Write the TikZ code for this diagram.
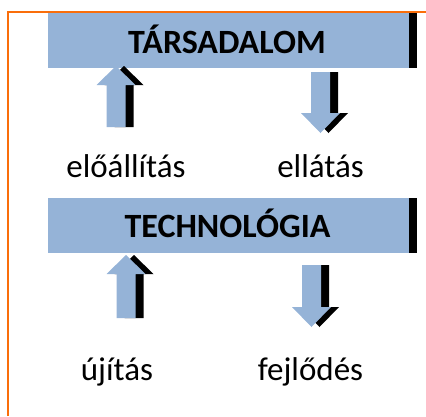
\documentclass[tikz,border=0pt]{standalone}
\usepackage{fontspec}
\setmainfont{Carlito}
\definecolor{boxblue}{RGB}{149,179,215}
\definecolor{frameorange}{RGB}{250,110,10}
\tikzset{
  boxfill/.style={fill=boxblue,draw=none},
  shadowfill/.style={fill=black,draw=none},
  boxlabel/.style={font=\bfseries\fontsize{34}{38}\selectfont,anchor=base,inner sep=0pt},
  wordlabel/.style={font=\fontsize{33}{37}\selectfont,anchor=base,inner sep=0pt},
}
% block arrow: #1 centre x, #2 tip y, #3 head base y, #4 tail y
\newcommand\myblockarrow[4]{%
  \fill[shadowfill,xshift=8pt] (#1-9.5,#4) -- (#1-9.5,#3) -- (#1-19.5,#3) -- (#1,#2) -- (#1+19.5,#3) -- (#1+9.5,#3) -- (#1+9.5,#4) -- cycle;
  \fill[boxfill] (#1-9.5,#4) -- (#1-9.5,#3) -- (#1-19.5,#3) -- (#1,#2) -- (#1+19.5,#3) -- (#1+9.5,#3) -- (#1+9.5,#4) -- cycle;}
\begin{document}
\begin{tikzpicture}[x=1pt,y=-1pt]
\useasboundingbox (0,0) rectangle (426,416);
% frame
\draw[frameorange,line width=2pt] (8,416) -- (8,12) -- (426,12);
% boxes
\fill[shadowfill] (409,13) rectangle (417,68);
\fill[boxfill] (48,13) rectangle (409,68);
\node[boxlabel] (tars) at (227,53) {TÁRSADALOM};
\fill[shadowfill] (409,198) rectangle (417,253);
\fill[boxfill] (48,198) rectangle (409,253);
\node[boxlabel] (tech) at (227.5,237) {TECHNOLÓGIA};
% arrows
\myblockarrow{116}{66}{85}{127}
\myblockarrow{320.5}{133}{113}{72}
\myblockarrow{126}{255}{274}{318}
\myblockarrow{311.5}{327}{307}{265}
% labels
\node[wordlabel] (eloall) at (126,177) {előállítás};
\node[wordlabel] (ellat) at (320.5,177) {ellátás};
\node[wordlabel] (ujit) at (117,380) {újítás};
\node[wordlabel] (fejl) at (310.5,380) {fejlődés};
\end{tikzpicture}
\end{document}
